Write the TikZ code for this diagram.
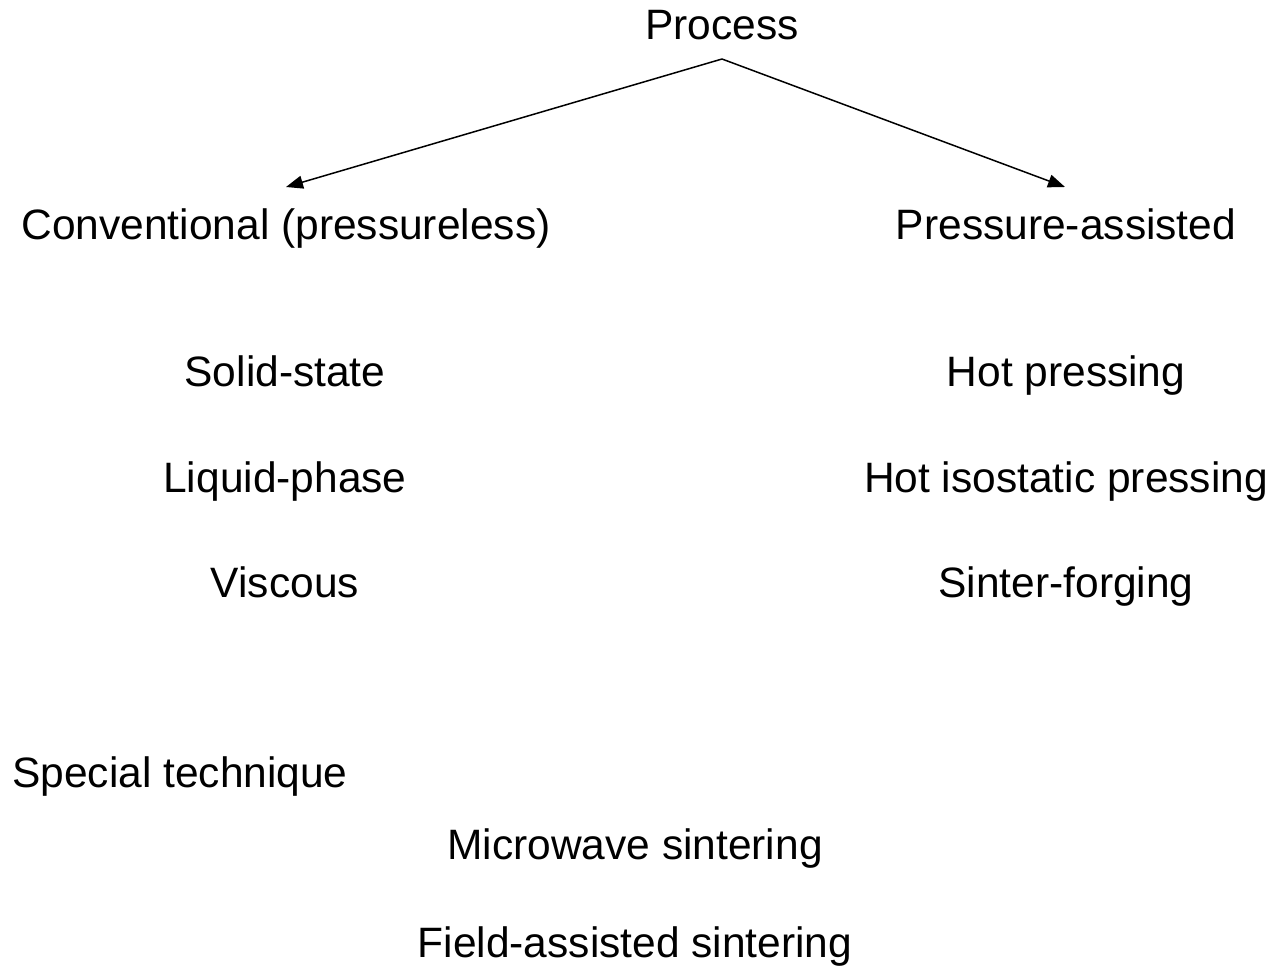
\documentclass[tikz,border=0pt]{standalone}
\usepackage{fontspec}
\setmainfont{Liberation Sans}
\usetikzlibrary{arrows.meta}
\begin{document}
\begin{tikzpicture}[x=1pt,y=-1pt,
  lbl/.style={inner sep=0pt,anchor=base,font=\fontsize{42.5}{50}\selectfont},
  conn/.style={line width=1.5pt,-{Triangle[length=17pt,width=13pt]}}]
\useasboundingbox[fill=white] (0,0) rectangle (1272,966);
\node[lbl] (proc) at (722,40) {Process};
\coordinate (apex) at (722,59);
\node[lbl] (conv) at (286,239) {Conventional (pressureless)};
\node[lbl] (pres) at (1066,239) {Pressure-assisted};
\coordinate (convtip) at (286,187);
\coordinate (prestip) at (1065,187);
\draw[conn] (apex) -- (convtip);
\draw[conn] (apex) -- (prestip);
\node[lbl] (solid) at (285,386) {Solid-state};
\node[lbl] (liquid) at (285,492) {Liquid-phase};
\node[lbl] (visc) at (285,597) {Viscous};
\node[lbl] (hotp) at (1066,386) {Hot pressing};
\node[lbl] (hip) at (1066,492) {Hot isostatic pressing};
\node[lbl] (sf) at (1066,597) {Sinter-forging};
\node[lbl,anchor=base west] (spec) at (12,787) {Special technique};
\node[lbl] (micro) at (635,859) {Microwave sintering};
\node[lbl] (field) at (635,957) {Field-assisted sintering};
\end{tikzpicture}
\end{document}
